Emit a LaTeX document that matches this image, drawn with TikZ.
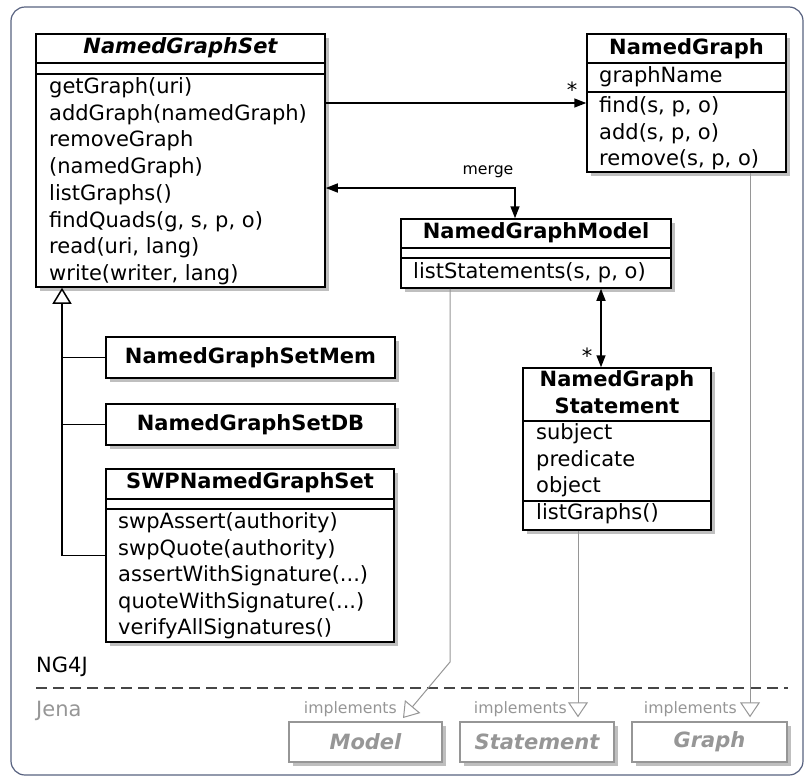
\documentclass[tikz,border=0pt]{standalone}
\usepackage{fontspec}
\setmainfont{DejaVu Sans}
\usetikzlibrary{arrows.meta,shadows}

\definecolor{framecol}{RGB}{88,98,128}
\definecolor{jenagray}{RGB}{150,150,150}
\definecolor{dashgray}{RGB}{70,70,70}

\tikzset{
  classbox/.style={draw, line width=1.5pt, fill=white, inner sep=0pt,
    drop shadow={shadow xshift=4pt, shadow yshift=-4pt, fill=black, opacity=0.25}},
  jenabox/.style={classbox, draw=jenagray, minimum height=40pt, text=jenagray,
    font=\fontsize{21pt}{26pt}\selectfont\bfseries\itshape},
  sep/.style={line width=1.2pt},
  member/.style={anchor=west, inner sep=0pt, text height=16pt, text depth=5pt,
    font=\fontsize{21pt}{26pt}\selectfont},
  title/.style={member, anchor=center, font=\fontsize{21pt}{26pt}\selectfont\bfseries},
  small/.style={inner sep=0pt, font=\fontsize{15.7pt}{18pt}\selectfont},
  assoc/.style={line width=1.5pt, -{Triangle[length=12pt,width=9pt]}},
  both/.style={line width=1.5pt, {Triangle[length=12pt,width=9pt]}-{Triangle[length=12pt,width=9pt]}},
  inherit/.style={line width=1.5pt, -{Triangle[open,length=16pt,width=19pt,fill=white]}},
  real/.style={draw=jenagray, line width=1pt, -{Triangle[open,length=15pt,width=20pt,fill=white]}}
}

\begin{document}
\begin{tikzpicture}[x=1pt, y=-1pt]
  \useasboundingbox (0,0) rectangle (805,777);
  \draw[framecol, line width=1.2pt, rounded corners=14pt] (11,7) rectangle (803,775);

  % NamedGraphSet
  \node[classbox, minimum width=289pt, minimum height=253pt] (gs) at (180.5,160.5) {};
  \draw[sep] (gs.west |- 0,63) -- (gs.east |- 0,63);
  \draw[sep] (gs.west |- 0,74) -- (gs.east |- 0,74);
  \node[title, font=\fontsize{21pt}{26pt}\selectfont\bfseries\itshape] (gs-t) at (180.5,48) {NamedGraphSet};
  \foreach \m [count=\i from 0] in {getGraph(uri), addGraph(namedGraph), removeGraph,
      (namedGraph), listGraphs(), {findQuads(g, s, p, o)}, {read(uri, lang)}, {write(writer, lang)}}
    \node[member] (gs-\i) at (49,{88+26.7*\i}) {\m};

  % NamedGraph
  \node[classbox, minimum width=199pt, minimum height=138pt] (g) at (686.5,103) {};
  \draw[sep] (g.west |- 0,63) -- (g.east |- 0,63);
  \draw[sep] (g.west |- 0,92) -- (g.east |- 0,92);
  \node[title] (g-t) at (686.5,48.5) {NamedGraph};
  \node[member] (g-a) at (599,77) {graphName};
  \foreach \m [count=\i from 0] in {{find(s, p, o)}, {add(s, p, o)}, {remove(s, p, o)}}
    \node[member] (g-\i) at (599,{107+26.5*\i}) {\m};

  % NamedGraphModel
  \node[classbox, minimum width=270pt, minimum height=69pt] (gm) at (536,253.5) {};
  \draw[sep] (gm.west |- 0,248) -- (gm.east |- 0,248);
  \draw[sep] (gm.west |- 0,258) -- (gm.east |- 0,258);
  \node[title] (gm-t) at (536,233) {NamedGraphModel};
  \node[member] (gm-0) at (413,273) {listStatements(s, p, o)};

  % NamedGraphStatement
  \node[classbox, minimum width=188pt, minimum height=162pt] (gst) at (617,449) {};
  \draw[sep] (gst.west |- 0,421) -- (gst.east |- 0,421);
  \draw[sep] (gst.west |- 0,501) -- (gst.east |- 0,501);
  \node[title] (gst-t1) at (617,381) {NamedGraph};
  \node[title] (gst-t2) at (617,408) {Statement};
  \foreach \m [count=\i from 0] in {subject, predicate, object, listGraphs()}
    \node[member] (gst-\i) at (536,{434+26.5*\i}) {\m};

  % implementations of NamedGraphSet
  \node[classbox, minimum width=289pt, minimum height=41pt, font=\fontsize{21pt}{26pt}\selectfont\bfseries]
    (gsm) at (250.5,357.5) {NamedGraphSetMem};
  \node[classbox, minimum width=289pt, minimum height=41pt, font=\fontsize{21pt}{26pt}\selectfont\bfseries]
    (gsd) at (250.5,424.5) {NamedGraphSetDB};
  \node[classbox, minimum width=288pt, minimum height=173pt] (swp) at (250,555.5) {};
  \draw[sep] (swp.west |- 0,499) -- (swp.east |- 0,499);
  \draw[sep] (swp.west |- 0,509) -- (swp.east |- 0,509);
  \node[title] (swp-t) at (250,483) {SWPNamedGraphSet};
  \node[member] (swp-0) at (118,523) {swpAssert(authority)};
  \node[member] (swp-1) at (118,549.5) {swpQuote(authority)};
  \node[member] (swp-2) at (118,576) {assertWithSignature(...)};
  \node[member] (swp-3) at (118,602.5) {quoteWithSignature(...)};
  \node[member] (swp-4) at (118,629) {verifyAllSignatures()};

  % inheritance
  \coordinate (inh) at (62,555.5);
  \draw[inherit] (inh) -- (inh |- gs.south);
  \draw[line width=1.5pt] (gsm.west) -- (gsm.west -| inh);
  \draw[line width=1.5pt] (gsd.west) -- (gsd.west -| inh);
  \draw[line width=1.5pt] (inh) -- (swp.west);

  % associations
  \draw[assoc] (gs.east |- 0,103) -- (g.west |- 0,103);
  \node[member, anchor=center] (star1) at (572,92) {*};
  \coordinate (mergebend) at (515,188);
  \draw[both] (gs.east |- mergebend) -- (mergebend) -- (mergebend |- gm.north);
  \node[small] (merge) at (488,172) {merge};
  \draw[both] (gm.south -| 601,0) -- (gst.north -| 601,0);
  \node[member, anchor=center] (star2) at (587,358) {*};

  % package border
  \node[member, inner sep=0pt] (ng4j) at (36,667) {NG4J};
  \draw[dashgray, line width=2pt, dash pattern=on 11pt off 6pt] (36,688) -- (788,688);
  \node[member, text=jenagray] (jena) at (36,711) {Jena};

  % Jena interfaces
  \node[jenabox, minimum width=153pt] (mdl) at (365.5,742) {Model};
  \node[jenabox, minimum width=154pt] (stm) at (537,742) {Statement};
  \node[jenabox, minimum width=155pt] (grp) at (709.5,742) {Graph};

  \coordinate (mdlbend) at (450,662);
  \coordinate (mdltip) at (403,718);
  \draw[real] (gm.south -| mdlbend) -- (mdlbend) -- (mdltip);
  \draw[real, shorten >=4pt] (gst.south -| 578,0) -- (stm.north -| 578,0);
  \draw[real, shorten >=4pt] (g.south -| 750,0) -- (grp.north -| 750,0);
  \node[small, anchor=east, text=jenagray] (impl-m) at (397,709) {implements};
  \node[small, anchor=east, text=jenagray] (impl-s) at (567,709) {implements};
  \node[small, anchor=east, text=jenagray] (impl-g) at (737,709) {implements};
\end{tikzpicture}
\end{document}
